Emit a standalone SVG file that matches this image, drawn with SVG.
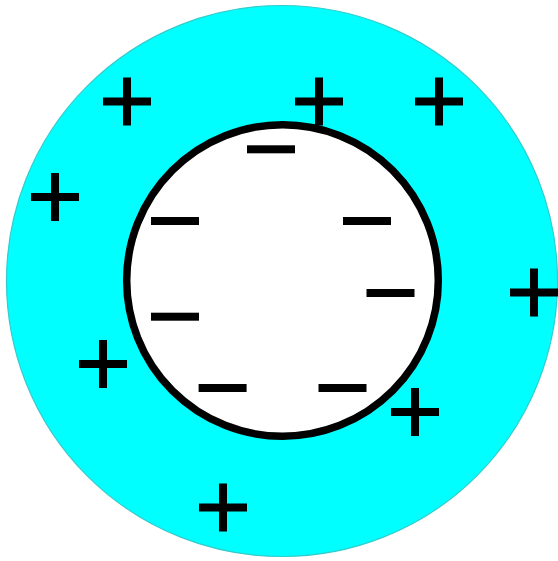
<svg xmlns="http://www.w3.org/2000/svg" xmlns:xlink="http://www.w3.org/1999/xlink" width="558" height="561" viewBox="0 0 558 561">
<style>
.outer{fill:#00ffff;stroke:#33cccc;stroke-width:1.2}
.inner{fill:#ffffff;stroke:#000000;stroke-width:7.5}
.sign{fill:#000000}
</style>
<defs>
<g id="plus"><rect x="-24" y="-4" width="48" height="8"/><rect x="-4" y="-24" width="8" height="48"/></g>
<rect id="minus" x="-24" y="-4" width="48" height="8"/>
</defs>
<rect width="558" height="561" fill="#ffffff"/>
<g id="shell"><circle class="outer" cx="282" cy="281" r="275.5"/></g>
<g id="cavity"><circle class="inner" cx="282.5" cy="280.5" r="155.8"/></g>
<g id="positive-charges" class="sign">
<use xlink:href="#plus" x="127" y="101.5"/>
<use xlink:href="#plus" x="319" y="101.5"/>
<use xlink:href="#plus" x="439" y="101.5"/>
<use xlink:href="#plus" x="55" y="197"/>
<use xlink:href="#plus" x="534" y="292.5"/>
<use xlink:href="#plus" x="103" y="364"/>
<use xlink:href="#plus" x="415" y="412"/>
<use xlink:href="#plus" x="223" y="507.5"/>
</g>
<g id="negative-charges" class="sign">
<use xlink:href="#minus" x="271" y="149.3"/>
<use xlink:href="#minus" x="175" y="221"/>
<use xlink:href="#minus" x="367" y="221"/>
<use xlink:href="#minus" x="390.5" y="293"/>
<use xlink:href="#minus" x="175" y="316.7"/>
<use xlink:href="#minus" x="222.6" y="388"/>
<use xlink:href="#minus" x="342.5" y="388"/>
</g>
</svg>
